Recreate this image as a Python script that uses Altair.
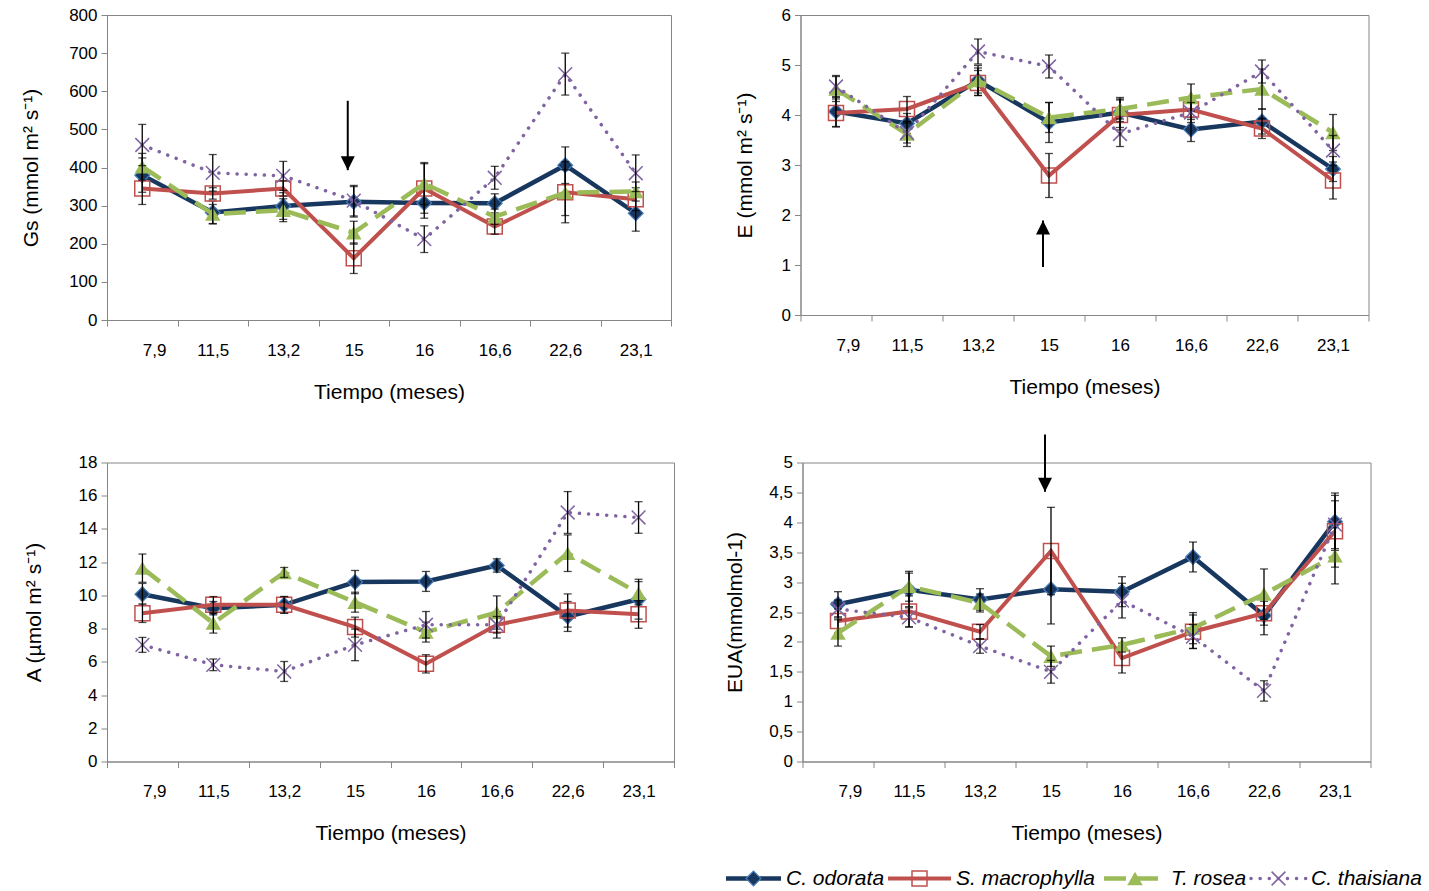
import json
import altair as alt
import pandas as pd

# ---------------- data ----------------
meses = ["7,9", "11,5", "13,2", "15", "16", "16,6", "22,6", "23,1"]
especies = ["C. odorata", "S. macrophylla", "T. rosea", "C. thaisiana"]

# Gs (mmol m2 s-1)
gs_odorata = [380, 282, 299, 310, 307, 306, 406, 280]
gs_macrophylla = [345, 332, 345, 162, 345, 245, 335, 317]
gs_rosea = [402, 278, 288, 229, 358, 271, 334, 337]
gs_thaisiana = [459, 386, 378, 313, 212, 373, 645, 385]
gs_err_odorata = [45, 30, 35, 40, 40, 25, 48, 47]
gs_err_macrophylla = [42, 15, 20, 40, 65, 20, 80, 30]
gs_err_rosea = [35, 25, 30, 30, 55, 20, 60, 25]
gs_err_thaisiana = [54, 48, 38, 40, 35, 30, 55, 48]

# E (mmol m2 s-1)
e_odorata = [4.07, 3.83, 4.69, 3.85, 4.05, 3.71, 3.87, 2.92]
e_macrophylla = [4.04, 4.12, 4.64, 2.79, 4.00, 4.11, 3.73, 2.69]
e_rosea = [4.52, 3.62, 4.69, 3.95, 4.12, 4.35, 4.52, 3.65]
e_thaisiana = [4.57, 3.64, 5.27, 4.97, 3.62, 4.05, 4.87, 3.29]
e_err_odorata = [0.30, 0.20, 0.25, 0.40, 0.30, 0.24, 0.25, 0.25]
e_err_macrophylla = [0.28, 0.25, 0.25, 0.44, 0.30, 0.20, 0.20, 0.37]
e_err_rosea = [0.25, 0.25, 0.30, 0.30, 0.20, 0.27, 0.40, 0.36]
e_err_thaisiana = [0.22, 0.20, 0.25, 0.23, 0.25, 0.20, 0.23, 0.30]

# A (umol m2 s-1)
a_odorata = [10.07, 9.23, 9.43, 10.80, 10.84, 11.80, 8.73, 9.77]
a_macrophylla = [8.93, 9.43, 9.43, 8.09, 5.88, 8.23, 9.09, 8.87]
a_rosea = [11.64, 8.33, 11.38, 9.59, 7.79, 8.97, 12.54, 10.13]
a_thaisiana = [7.02, 5.82, 5.42, 7.02, 8.23, 8.23, 14.99, 14.69]
a_err_odorata = [0.65, 0.40, 0.50, 0.70, 0.60, 0.40, 0.90, 1.20]
a_err_macrophylla = [0.56, 0.50, 0.50, 0.60, 0.55, 0.80, 1.00, 0.85]
a_err_rosea = [0.85, 0.60, 0.30, 0.60, 0.60, 1.00, 1.10, 0.70]
a_err_thaisiana = [0.45, 0.35, 0.60, 0.95, 0.80, 0.50, 1.26, 0.95]

# EUA (mmol mol-1)
eua_odorata = [2.63, 2.87, 2.71, 2.88, 2.84, 3.42, 2.44, 4.01]
eua_macrophylla = [2.35, 2.51, 2.17, 3.52, 1.73, 2.17, 2.48, 3.85]
eua_rosea = [2.15, 2.93, 2.65, 1.76, 1.95, 2.23, 2.80, 3.44]
eua_thaisiana = [2.55, 2.41, 1.93, 1.50, 2.69, 2.09, 1.18, 3.96]
eua_err_odorata = [0.21, 0.28, 0.18, 0.58, 0.25, 0.25, 0.32, 0.48]
eua_err_macrophylla = [0.20, 0.26, 0.12, 0.73, 0.25, 0.28, 0.20, 0.60]
eua_err_rosea = [0.22, 0.25, 0.15, 0.17, 0.12, 0.26, 0.42, 0.47]
eua_err_thaisiana = [0.15, 0.16, 0.12, 0.19, 0.29, 0.20, 0.17, 0.40]

# arrows (month, start value, tip value)
arrow_gs = ["15", 575, 393]
arrow_e = ["15", 0.96, 1.89]
arrow_eua = ["15", 5.47, 4.51]

# ---------------- styles ----------------
FONT = "Liberation Sans"
X_PATH = "M-1,-1L1,1M-1,1L1,-1"
HEAD_DOWN = "M-1,-2L1,-2L0,0Z"
HEAD_UP = "M-1,2L1,2L0,0Z"
STYLE = {
    "C. odorata": dict(line=dict(color="#17375E", strokeWidth=4.5),
                       point=dict(shape="diamond", size=220, filled=True, fill="#17375E",
                                  stroke="#4A7EBB", strokeWidth=1.2, opacity=1)),
    "S. macrophylla": dict(line=dict(color="#C0504D", strokeWidth=4),
                           point=dict(shape="square", size=225, filled=False,
                                      stroke="#C0504D", strokeWidth=1.5, opacity=1)),
    "T. rosea": dict(line=dict(color="#9BBB59", strokeWidth=4.5, strokeDash=[22, 10]),
                     point=dict(shape="triangle-up", size=240, filled=True, fill="#9BBB59",
                                strokeWidth=0, opacity=1)),
    "C. thaisiana": dict(line=dict(color="#8064A2", strokeWidth=3.5, strokeDash=[0.1, 9],
                                   strokeCap="round"),
                         point=dict(shape=X_PATH, size=190, filled=False,
                                    stroke="#8064A2", strokeWidth=1.5, opacity=1)),
}
GRAY = "#868686"


def panel(vals, errs, ymax, ystep, ytitle, w, h, ext, tpad, arrow=None, comma=False):
    rows = []
    for s, v, e in zip(especies, vals, errs):
        for i, (m, vv, ee) in enumerate(zip(meses, v, e)):
            rows.append(dict(especie=s, idx=i, mes=m, valor=vv, err=ee))
    df = pd.DataFrame(rows)
    names = json.dumps(meses).replace('"', "'")
    xenc = alt.X("xpos:Q", scale=alt.Scale(domain=[0, 8], nice=False, zero=False),
                 axis=alt.Axis(values=list(range(9)), title="Tiempo (meses)",
                               labelExpr=f"datum.value < 8 ? {names}[datum.value] : ''",
                               labelOffset=w / 16, labelPadding=16, titlePadding=23))
    n = int(round(ymax / ystep))
    yvals = [round(k * ystep, 3) for k in range(n + 1)]
    yaxis = dict(values=yvals, title=ytitle, minExtent=ext, maxExtent=ext,
                 titlePadding=tpad, labelPadding=4)
    if comma:
        yaxis.update(format="~g", labelExpr="replace(datum.label, '.', ',')")
    yscale = alt.Scale(domain=[0, ymax], nice=False)
    yenc = alt.Y("valor:Q", scale=yscale, axis=alt.Axis(**yaxis))
    base = alt.Chart(df).transform_calculate(
        xpos="datum.idx + 0.5", lo="datum.valor - datum.err", hi="datum.valor + datum.err")
    layers = []
    for s in especies:
        st = STYLE[s]
        b = base.transform_filter(alt.datum.especie == s)
        layers.append(b.mark_line(**st["line"]).encode(x=xenc, y=yenc))
        layers.append(b.mark_point(**st["point"]).encode(x=xenc, y=yenc))
        layers.append(b.mark_rule(color="black", strokeWidth=1.3).encode(
            x=xenc, y=alt.Y("lo:Q", scale=yscale, axis=alt.Axis(**yaxis)), y2="hi:Q"))
        for f in ["lo", "hi"]:
            layers.append(b.mark_tick(orient="horizontal", color="black", thickness=1.3,
                                      size=8).encode(
                x=xenc, y=alt.Y(f + ":Q", scale=yscale, axis=alt.Axis(**yaxis))))
    if arrow is not None:
        m, y0, y1 = arrow
        adf = pd.DataFrame({"idx": [meses.index(m)], "y0": [y0], "y1": [y1]})
        ab = alt.Chart(adf).transform_calculate(xpos="datum.idx + 0.5")
        head = HEAD_DOWN if y1 < y0 else HEAD_UP
        layers.append(ab.mark_rule(color="black", strokeWidth=2, xOffset=-6).encode(
            x=xenc, y=alt.Y("y0:Q", scale=yscale, axis=alt.Axis(**yaxis)), y2="y1:Q"))
        layers.append(ab.mark_point(shape=head, size=196, filled=True, fill="black",
                                    strokeWidth=0, opacity=1, xOffset=-6).encode(
            x=xenc, y=alt.Y("y1:Q", scale=yscale, axis=alt.Axis(**yaxis))))
    return alt.layer(*layers).properties(width=w, height=h)


p1 = panel([gs_odorata, gs_macrophylla, gs_rosea, gs_thaisiana],
           [gs_err_odorata, gs_err_macrophylla, gs_err_rosea, gs_err_thaisiana],
           800, 100, "Gs (mmol m² s⁻¹)", 564, 305, 38, 27.5, arrow=arrow_gs)
p2 = panel([e_odorata, e_macrophylla, e_rosea, e_thaisiana],
           [e_err_odorata, e_err_macrophylla, e_err_rosea, e_err_thaisiana],
           6, 1, "E (mmol m² s⁻¹)", 568, 300, 22, 23.5, arrow=arrow_e)
p3 = panel([a_odorata, a_macrophylla, a_rosea, a_thaisiana],
           [a_err_odorata, a_err_macrophylla, a_err_rosea, a_err_thaisiana],
           18, 2, "A  (µmol m² s⁻¹)", 567, 299, 30, 32.5)
p4 = panel([eua_odorata, eua_macrophylla, eua_rosea, eua_thaisiana],
           [eua_err_odorata, eua_err_macrophylla, eua_err_rosea, eua_err_thaisiana],
           5, 0.5, "EUA(mmolmol-1)", 568, 299, 34, 23.5, arrow=arrow_eua, comma=True)

# ---------------- legend ----------------
LEG_SYM_X = [619, 781, 997, 1144]
LEG_SYM_LEN = [55, 63, 62, 55]
LEG_Y = 10
leg_layers = []
for s, x0, L in zip(especies, LEG_SYM_X, LEG_SYM_LEN):
    st = STYLE[s]
    ld = alt.Chart(pd.DataFrame({"especie": [s]}))
    leg_layers.append(ld.mark_rule(**st["line"]).encode(
        x=alt.value(x0), x2=alt.value(x0 + L), y=alt.value(LEG_Y)))
    leg_layers.append(ld.mark_point(**st["point"]).encode(
        x=alt.value(x0 + L / 2), y=alt.value(LEG_Y)))
    leg_layers.append(ld.mark_text(align="left", baseline="middle", font=FONT, fontSize=21,
                                   fontStyle="italic", color="black").encode(
        x=alt.value(x0 + L + 5), y=alt.value(LEG_Y), text="especie:N"))
legend = alt.layer(*leg_layers).properties(
    width=1300, height=20, view=alt.ViewBackground(stroke="transparent"))

row1 = alt.hconcat(p1, p2, spacing=61.5)
row2 = alt.hconcat(p3, p4, spacing=48.5)
bottom = alt.vconcat(row2, legend, spacing=22)
chart = alt.vconcat(row1, bottom, spacing=29.5).properties(
    padding={"left": 20, "top": 5, "right": 0, "bottom": 0}, background="white"
).configure_view(stroke=GRAY, strokeWidth=1).configure_axis(
    labelFont=FONT, titleFont=FONT, labelFontSize=17, titleFontSize=21,
    titleFontWeight="normal", labelColor="black", titleColor="black",
    domainColor=GRAY, tickColor=GRAY, tickSize=6, grid=False)

chart.save("out.html", embed_options={"renderer": "svg", "actions": False})
